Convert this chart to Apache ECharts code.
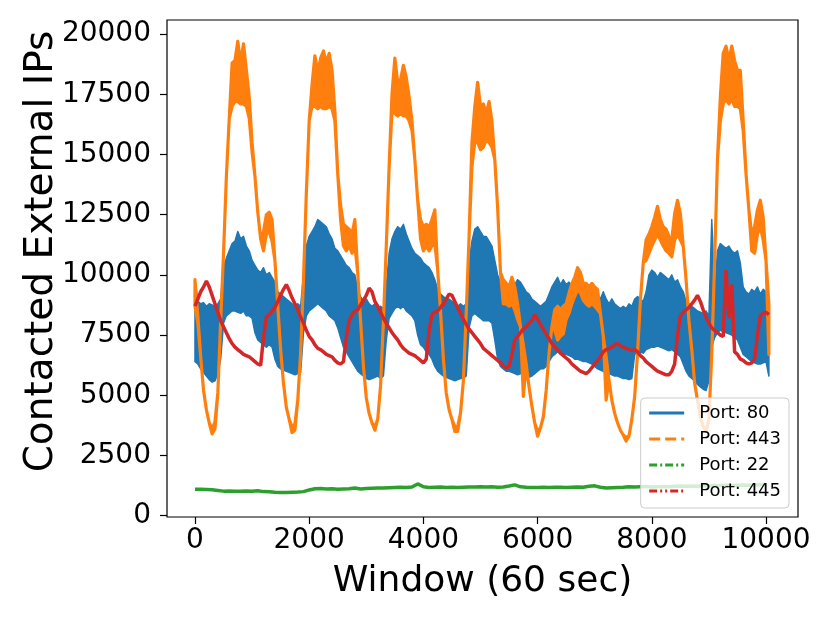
<!DOCTYPE html>
<html>
<head>
<meta charset="utf-8">
<script src="https://cdn.jsdelivr.net/npm/echarts@6/dist/echarts.min.js"></script>
<style>
html,body{margin:0;padding:0;background:#fff;}
#chart{width:830px;height:623px;}
</style>
</head>
<body>
<div id="chart"></div>
<script>
// Sample spacing (windows) of the envelope / line arrays below
const STEP = 50;
const STEP22 = 100;

const xTicks = [0, 2000, 4000, 6000, 8000, 10000];
const yTicks = [0, 2500, 5000, 7500, 10000, 12500, 15000, 17500, 20000];
const legendNames = ['Port: 80', 'Port: 443', 'Port: 22', 'Port: 445'];

// Port 80: upper / lower envelope of the dense oscillation, every 50 windows
const port80Hi = [
 9800, 8900, 8800, 8850, 8700, 8800, 8750, 8700, 8800, 9000,
 10300, 10700, 11000, 11300, 11400, 11800, 11500, 11600, 11200, 11000,
 10600, 10400, 10200, 10100, 10300, 10000, 10100, 9900, 9700, 9300,
 9200, 9100, 9000, 8900, 8800, 8700, 8800, 8700, 10000, 11200,
 11600, 11800, 12000, 12300, 12200, 12100, 12000, 11700, 11500, 11100,
 11000, 10800, 10600, 10400, 10300, 10100, 10000, 9400, 9100, 8900,
 9000, 8800, 8700, 8800, 8600, 8700, 8600, 9500, 10900, 11500,
 11800, 12000, 11900, 12100, 11700, 11400, 11100, 10900, 10800, 10700,
 10500, 10400, 10300, 10100, 9800, 9400, 9200, 9100, 9000, 9000,
 8900, 8800, 8700, 8800, 8700, 8800, 10500, 11400, 11900, 12000,
 11800, 11600, 11600, 11400, 11200, 10600, 10000, 9700, 9600, 9500,
 9600, 9900, 9600, 9800, 9700, 9500, 9300, 9200, 9000, 8900,
 8800, 8700, 8800, 8900, 9200, 9500, 9700, 9900, 9600, 9800,
 9600, 9700, 9500, 9400, 9300, 9400, 9200, 9300, 9100, 9200,
 9000, 9200, 9000, 9300, 9000, 8800, 9000, 8800, 8700, 8600,
 8700, 8600, 8800, 8700, 9000, 9100, 9000, 8900, 9300, 10000,
 10200, 10100, 9900, 10100, 10000, 9900, 9800, 10000, 9700, 9800,
 9500, 9300, 8900, 8800, 8700, 8600, 8500, 8450, 8400, 8500,
 8300, 12300, 9200, 11000, 11300, 11200, 11100, 11200, 11000, 10900,
 11000, 10500, 9500, 9300, 9200, 9400, 9300, 9500, 9200, 9400,
 9300, 9100
];
const port80Lo = [
 6400, 6300, 6100, 5950, 5800, 5650, 5550, 5600, 5900, 6500,
 8000, 8300, 8400, 8500, 8500, 8450, 8400, 8500, 8300, 8300,
 8200, 7600, 7300, 7200, 7100, 7000, 7100, 7000, 6500, 6200,
 6100, 6050, 6000, 5950, 5900, 5850, 5900, 5950, 7600, 8300,
 8500, 8600, 8700, 8800, 8700, 8600, 8500, 8300, 8200, 8100,
 7800, 7400, 7000, 6800, 6600, 6400, 6200, 6000, 5900, 5800,
 5700, 5650, 5700, 5750, 5800, 5700, 5800, 7300, 8200, 8400,
 8600, 8700, 8600, 8700, 8500, 8400, 8300, 8100, 7500, 7100,
 7000, 6800, 6700, 6500, 6200, 6000, 5900, 5800, 5750, 5700,
 5650, 5600, 5650, 5700, 5700, 5800, 7800, 8300, 8400, 8300,
 8200, 8100, 8100, 8100, 8000, 7300, 6500, 6200, 6100, 6000,
 6000, 5950, 5900, 5850, 5900, 5850, 5800, 5750, 5800, 5900,
 6000, 6100, 6100, 6200, 6400, 6600, 6700, 6800, 6750, 6700,
 6700, 6650, 6600, 6500, 6500, 6450, 6400, 6400, 6350, 6300,
 6200, 6100, 6050, 6000, 5950, 5900, 5850, 5800, 5800, 5750,
 5700, 5700, 5650, 5700, 6700, 6750, 6800, 6750, 6900, 6950,
 7000, 7000, 7050, 7000, 6950, 6900, 6850, 6900, 6800, 6700,
 6600, 6300, 6000, 5800, 5700, 5600, 5450, 5350, 5250, 5200,
 5600, 7000, 7400, 7600, 7700, 7650, 7600, 7550, 7500, 7400,
 7300, 7000, 6700, 6600, 6500, 6400, 6350, 6300, 6300, 6350,
 6400, 5800
];

// Port 443: upper / lower envelope, every 50 windows
const port443Hi = [
 9800, 8300, 6600, 5200, 4400, 3850, 3600, 3900, 5100, 8100,
 10900, 14100, 16500, 18800, 18900, 19700, 18800, 19600, 18500, 17400,
 15500, 14100, 12600, 11500, 11800, 12500, 12600, 12300, 10600, 8700,
 6900, 5500, 4500, 4000, 3700, 3800, 4800, 6750, 9800, 13400,
 16400, 17900, 19100, 18400, 19000, 19300, 18800, 19200, 18500, 16800,
 14200, 12900, 12100, 12000, 11900, 11700, 12300, 10100, 8100, 6200,
 4900, 4250, 3850, 3700, 4000, 5400, 8100, 11200, 14500, 17500,
 19000, 18000, 18100, 18700, 18200, 17400, 16400, 14800, 13100, 12300,
 12000, 12100, 12000, 12300, 12700, 10200, 8500, 6500, 5100, 4400,
 4000, 3700, 3700, 4250, 5600, 8400, 11600, 15500, 17000, 18000,
 17000, 17100, 16700, 17200, 16400, 14800, 12800, 10100, 9800, 9650,
 9500, 9900, 9500, 8800, 7850, 7100, 6300, 5350, 4550, 3850,
 3500, 3650, 4100, 5200, 6750, 7850, 8550, 8700, 8550, 8700,
 8800, 9250, 9650, 9900, 10300, 10100, 9650, 9650, 9500, 9650,
 9500, 9400, 8400, 7450, 6600, 5650, 4800, 4250, 3850, 3550,
 3350, 3250, 3300, 4000, 4950, 6750, 8950, 10500, 11450, 11700,
 12000, 12400, 12850, 12300, 12000, 11900, 11600, 11450, 12550, 13100,
 12550, 11200, 9800, 8100, 6900, 5500, 4800, 4100, 3700, 3500,
 4000, 6750, 10600, 14800, 17400, 19200, 19500, 18900, 19500, 18900,
 18500, 18500, 16400, 14200, 12700, 11700, 12000, 12700, 13100, 12400,
 10600, 8800
];
const port443Lo = [
 8700, 8000, 6600, 5200, 4400, 3850, 3400, 3600, 5100, 8100,
 10900, 14100, 16500, 17000, 17200, 17200, 17100, 17100, 17000, 16500,
 15100, 14100, 12600, 11500, 11000, 11700, 11800, 11400, 10600, 8700,
 6900, 5500, 4500, 4000, 3450, 3550, 4800, 6750, 9800, 13400,
 16400, 17000, 17000, 16900, 17000, 16900, 16900, 17000, 16900, 16400,
 14200, 12300, 11200, 11000, 11200, 10900, 11200, 10100, 8100, 6200,
 4900, 4250, 3850, 3550, 4000, 5400, 8100, 11200, 14500, 16800,
 16700, 16600, 16700, 16600, 16600, 16400, 16000, 14800, 13100, 11500,
 11000, 11200, 11000, 11200, 11300, 10200, 8500, 6500, 5100, 4400,
 4000, 3500, 3500, 4250, 5600, 8400, 11600, 14500, 15500, 15500,
 15200, 15300, 15600, 15500, 15300, 14800, 12800, 10100, 8800, 8800,
 8700, 8800, 8550, 8150, 7850, 4950, 6300, 5350, 4550, 3850,
 3300, 3650, 4100, 5200, 6750, 7850, 7700, 7300, 7450, 7550,
 8150, 8400, 8800, 9100, 9400, 9250, 8950, 8800, 8700, 8800,
 8700, 8550, 8400, 7450, 4800, 5650, 4800, 4250, 3850, 3550,
 3350, 3100, 3300, 4000, 4950, 6750, 8950, 10500, 10600, 10900,
 11200, 11450, 11700, 11450, 11200, 11000, 10900, 10750, 11450, 11700,
 11450, 11200, 9800, 8100, 6900, 5500, 4800, 4100, 3700, 3500,
 4000, 6750, 10600, 14800, 16400, 17100, 17300, 17100, 17300, 17000,
 17000, 16900, 16000, 14200, 12700, 11000, 10900, 11700, 12000, 11450,
 10600, 6700
];

// Port 22: every 100 windows
const port22 = [
 1100, 1100, 1090, 1080, 1050, 1020, 1030, 1020, 1020, 1030,
 1020, 1040, 1000, 990, 970, 960, 960, 970, 980, 1000,
 1070, 1120, 1130, 1110, 1120, 1100, 1110, 1120, 1150, 1110,
 1130, 1140, 1150, 1150, 1160, 1170, 1180, 1170, 1190, 1320,
 1200, 1170, 1180, 1190, 1170, 1180, 1170, 1180, 1190, 1190,
 1200, 1190, 1200, 1180, 1190, 1230, 1280, 1200, 1180, 1170,
 1170, 1180, 1170, 1180, 1180, 1170, 1180, 1190, 1180, 1220,
 1240, 1180, 1150, 1160, 1170, 1180, 1200, 1190, 1200, 1210,
 1190, 1200, 1210, 1200, 1220, 1230, 1220, 1230, 1220, 1240,
 1240, 1250, 1250, 1260, 1250, 1260, 1270, 1260, 1280, 1290,
 1300
];

// Port 445: every 50 windows
const port445 = [
 8700, 9000, 9300, 9500, 9750, 9500, 9150, 8800, 8450, 8100,
 7850, 7600, 7350, 7150, 7000, 6900, 6800, 6700, 6650, 6600,
 6500, 6400, 6300, 6250, 7400, 8250, 8350, 8500, 8650, 8900,
 9150, 9400, 9600, 9350, 9050, 8800, 8550, 8250, 8000, 7700,
 7450, 7300, 7100, 6950, 6900, 6800, 6700, 6650, 6600, 6450,
 6350, 6300, 6400, 7400, 8100, 8350, 8500, 8550, 8750, 8950,
 9150, 9450, 9300, 8900, 8700, 8450, 8200, 8000, 7800, 7600,
 7450, 7300, 7100, 6950, 6850, 6750, 6700, 6650, 6550, 6450,
 6350, 6500, 7700, 8350, 8450, 8500, 8650, 8800, 9000, 9200,
 9150, 8900, 8650, 8400, 8150, 7950, 7750, 7600, 7450, 7300,
 7150, 6950, 6850, 6750, 6650, 6550, 6450, 6350, 6200, 6150,
 6200, 6700, 7300, 7450, 7600, 7750, 7850, 8000, 8100, 8350,
 8150, 7950, 7750, 7550, 7350, 7150, 7000, 6900, 6750, 6650,
 6550, 6450, 6300, 6200, 6100, 6000, 5950, 5900, 6000, 6150,
 6300, 6450, 6600, 6800, 6900, 6950, 7000, 7100, 7150, 7050,
 7000, 6950, 6900, 6850, 6900, 6800, 6650, 6550, 6400, 6300,
 6200, 6100, 6000, 5950, 5900, 5850, 5850, 6000, 6300, 7500,
 8300, 8450, 8550, 8650, 8800, 8950, 9150, 8900, 8550, 8250,
 8000, 7800, 7700, 7600, 7500, 7450, 10200, 8200, 9600, 6800,
 6700, 6500, 6450, 6350, 6300, 6350, 6500, 7500, 8300, 8400,
 8450, 8350
];

const C80 = '#1f77b4', C443 = '#ff7f0e', C22 = '#2ca02c', C445 = '#d62728';
const FONT = 'DejaVu Sans';

function toPairs(arr, step) { return arr.map((v, i) => [i * step, v]); }

function bandSeries(id, hi, lo, color, lw, z) {
  return {
    id: id, type: 'custom', coordinateSystem: 'cartesian2d', z: z, silent: true,
    data: [[0, 0]],
    renderItem: function (params, api) {
      const pts = [];
      for (let i = 0; i < hi.length; i++) pts.push(api.coord([i * STEP, hi[i]]));
      for (let i = lo.length - 1; i >= 0; i--) pts.push(api.coord([i * STEP, lo[i]]));
      return { type: 'polygon', shape: { points: pts },
        style: { fill: color, stroke: color, lineWidth: lw, lineJoin: 'round' } };
    }
  };
}

function legendOnly(name, color, dash) {
  return { name: name, type: 'line', data: [], symbol: 'none', showSymbol: false,
    itemStyle: { color: color, opacity: 0, borderWidth: 0 },
    lineStyle: { color: color, width: 3, type: dash, opacity: 1 } };
}

const plainNum = function (v) { return String(v); };

const chart = echarts.init(document.getElementById('chart'), null, { renderer: 'canvas' });
chart.setOption({
  animation: false,
  backgroundColor: '#ffffff',
  grid: { left: 167, right: 32, top: 20, bottom: 106, show: true,
          borderColor: '#000', borderWidth: 1.2, backgroundColor: 'transparent' },
  xAxis: {
    type: 'value', min: -490, max: 10560,
    name: 'Window (60 sec)', nameLocation: 'middle', nameGap: 47, nameMoveOverlap: false,
    nameTextStyle: { fontSize: 36, fontFamily: FONT, color: '#000' },
    axisLine: { show: false, onZero: false },
    splitLine: { show: false },
    axisTick: { show: true, customValues: xTicks, length: 7, lineStyle: { color: '#000', width: 1.2 } },
    axisLabel: { customValues: xTicks, formatter: plainNum, fontSize: 28, fontFamily: FONT, color: '#000', margin: 10 }
  },
  yAxis: {
    type: 'value', min: -54, max: 20586,
    name: 'Contacted External IPs', nameLocation: 'middle', nameGap: 106, nameMoveOverlap: false,
    nameTextStyle: { fontSize: 39, fontFamily: FONT, color: '#000', padding: [0, 0, 0, 34] },
    axisLine: { show: false, onZero: false },
    splitLine: { show: false },
    axisTick: { show: true, customValues: yTicks, length: 7, lineStyle: { color: '#000', width: 1.2 } },
    axisLabel: { customValues: yTicks, formatter: plainNum, fontSize: 28, fontFamily: FONT, color: '#000', margin: 16 }
  },
  legend: {
    data: legendNames, orient: 'vertical', right: 41, bottom: 115,
    itemWidth: 35, itemHeight: 14, itemGap: 8, padding: [6, 8, 8, 7],
    backgroundColor: 'rgba(255,255,255,0.8)', borderColor: '#cccccc', borderWidth: 1, borderRadius: 4,
    itemStyle: { opacity: 0 },
    lineStyle: { width: 3 },
    textStyle: { fontSize: 18, fontFamily: FONT, color: '#000', padding: [0, 0, 0, 10] },
    selectedMode: false
  },
  series: [
    bandSeries('b80', port80Hi, port80Lo, C80, 1.5, 1),
    bandSeries('b443', port443Hi, port443Lo, C443, 3.2, 2),
    { id: 'l22', type: 'line', data: toPairs(port22, STEP22), symbol: 'none', z: 3, silent: true,
      lineStyle: { color: C22, width: 3.5 } },
    { id: 'l445', type: 'line', data: toPairs(port445, STEP), symbol: 'none', z: 4, silent: true,
      lineStyle: { color: C445, width: 3.5 } },
    legendOnly(legendNames[0], C80, 'solid'),
    legendOnly(legendNames[1], C443, [11, 5]),
    legendOnly(legendNames[2], C22, [8, 3, 2, 3]),
    legendOnly(legendNames[3], C445, [8, 3, 2, 3, 2, 3])
  ]
});
</script>
</body>
</html>
